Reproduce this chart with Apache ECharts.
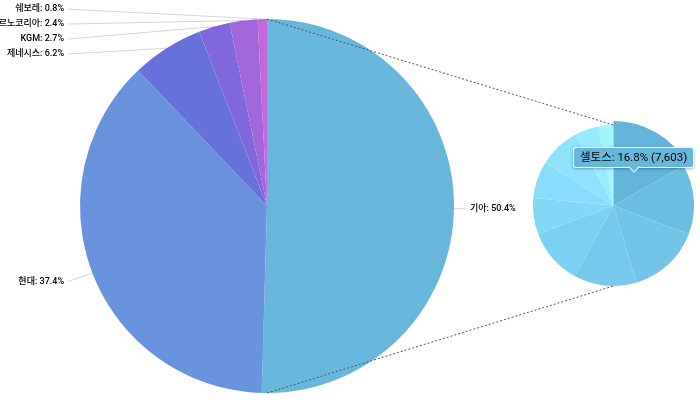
<!DOCTYPE html>
<html><head><meta charset="utf-8">
<script src="https://cdn.jsdelivr.net/npm/echarts@6/dist/echarts.min.js"></script>
<style>html,body{margin:0;padding:0;background:#fff}#c{width:700px;height:412px}</style>
</head><body><div id="c"></div>
<script>
// ---- data ----
const brandNames = ['기아', '현대', '제네시스', 'KGM', '르노코리아', '쉐보레'];
const brandShares = [50.4, 37.4, 6.2, 2.7, 2.4, 0.8];
const brandColors = ['#67b7dc', '#6794dc', '#6771dc', '#8067dc', '#a367dc', '#c767dc'];
const kiaModels = ['셀토스', '쏘렌토', '스포티지', '카니발', '레이', 'K5', '모닝', 'K8', 'EV3', '기타'];
const kiaSales = [7603, 6336, 6607, 5702, 5091, 3281, 3349, 3756, 2172, 1358];
const kiaColors = ['#67b7dc', '#6cbde2', '#72c4e8', '#77caee', '#7cd0f2', '#82d6f6', '#88dcf9', '#8ee2fc', '#98ebff', '#a4f4ff'];

// ---- layout ----
const MAIN = { cx: 267, cy: 206, r: 187 };
const SUB = { cx: 613.5, cy: 205.5, r: 80.5 };
const FONT = 'Roboto, "Noto Sans CJK KR", sans-serif';

const chart = echarts.init(document.getElementById('c'), null, { renderer: 'canvas' });

const labelLineOverrides = { '기아': { length: 8, length2: 4 }, '현대': { length: 24, length2: 2 } };
const mainData = brandNames.map((n, i) => {
  const o = { name: n, value: brandShares[i], itemStyle: { color: brandColors[i] } };
  if (labelLineOverrides[n]) o.labelLine = labelLineOverrides[n];
  return o;
});
const subData = kiaModels.map((n, i) => ({ name: n, value: kiaSales[i], itemStyle: { color: kiaColors[i] } }));
const subTotal = kiaSales.reduce((a, b) => a + b, 0);

function tipPoint(idx) {
  let before = 0;
  for (let i = 0; i < idx; i++) before += kiaSales[i];
  const mid = (before + kiaSales[idx] / 2) / subTotal * Math.PI * 2;
  return [SUB.cx + SUB.r / 2 * Math.sin(mid), SUB.cy - SUB.r / 2 * Math.cos(mid)];
}

const option = {
  animation: false,
  tooltip: {
    trigger: 'item',
    triggerOn: 'none',
    alwaysShowContent: true,
    transitionDuration: 0,
    backgroundColor: '#67b7dc',
    borderColor: 'rgba(255,255,255,0.9)',
    borderWidth: 1,
    padding: [1, 6],
    textStyle: { color: '#000', fontSize: 11.5, fontFamily: FONT },
    extraCssText: 'box-shadow:0 1px 3px rgba(0,0,0,0.3);border-radius:3px;line-height:17px;',
    position: function (point, params, dom, rect, size) {
      const p = tipPoint(params.dataIndex || 0);
      return [p[0] - size.contentSize[0] / 2, p[1] - size.contentSize[1] - 3];
    },
    formatter: function (p) {
      return '<span style="position:relative;z-index:2;">' + p.name + ': ' + p.percent.toFixed(1) + '% (' +
        echarts.format.addCommas(p.value) + ')</span>' +
        '<span style="position:absolute;left:50%;bottom:-4px;margin-left:-4px;width:7px;height:7px;' +
        'background:#67b7dc;border-right:1px solid rgba(255,255,255,0.9);border-bottom:1px solid rgba(255,255,255,0.9);' +
        'transform:rotate(45deg);z-index:1;"></span>';
    }
  },
  series: [
    {
      type: 'pie',
      center: [MAIN.cx, MAIN.cy],
      radius: MAIN.r,
      startAngle: 90,
      clockwise: true,
      data: mainData,
      itemStyle: { borderWidth: 0 },
      label: {
        show: true,
        position: 'outer',
        alignTo: 'labelLine',
        bleedMargin: -14,
        distanceToLabelLine: 4,
        formatter: '{b}: {c}%',
        color: '#000',
        fontSize: 9,
        fontWeight: 500,
        lineHeight: 13,
        overflow: 'none',
        fontFamily: FONT
      },
      labelLine: { show: true, length: 10, length2: 2, smooth: false, lineStyle: { color: '#d6d6d6', width: 1 } },
      labelLayout: function (params) {
        const pts = params.labelLinePoints;
        if (!pts || pts.length < 3) return {};
        return { labelLinePoints: [pts[0].slice(), pts[2].slice(), pts[2].slice()] };
      },
      emphasis: { disabled: true },
      tooltip: { show: false }
    },
    {
      type: 'pie',
      center: [SUB.cx, SUB.cy],
      radius: SUB.r,
      startAngle: 90,
      clockwise: true,
      percentPrecision: 2,
      data: subData,
      itemStyle: { borderWidth: 0 },
      label: { show: false },
      labelLine: { show: false },
      emphasis: { scale: true, scaleSize: 4, itemStyle: { color: '#64b3d9' }, label: { show: false } }
    }
  ],
  graphic: [
    {
      type: 'line', z: 100, silent: true,
      shape: { x1: MAIN.cx, y1: MAIN.cy - MAIN.r, x2: SUB.cx, y2: SUB.cy - SUB.r },
      style: { stroke: '#555', lineWidth: 1, lineDash: [2, 2] }
    },
    {
      type: 'line', z: 100, silent: true,
      shape: { x1: MAIN.cx, y1: MAIN.cy + MAIN.r, x2: SUB.cx, y2: SUB.cy + SUB.r },
      style: { stroke: '#555', lineWidth: 1, lineDash: [2, 2] }
    }
  ]
};
chart.setOption(option);
chart.dispatchAction({ type: 'highlight', seriesIndex: 1, dataIndex: 0 });
chart.dispatchAction({ type: 'showTip', seriesIndex: 1, dataIndex: 0 });
</script>
</body></html>
